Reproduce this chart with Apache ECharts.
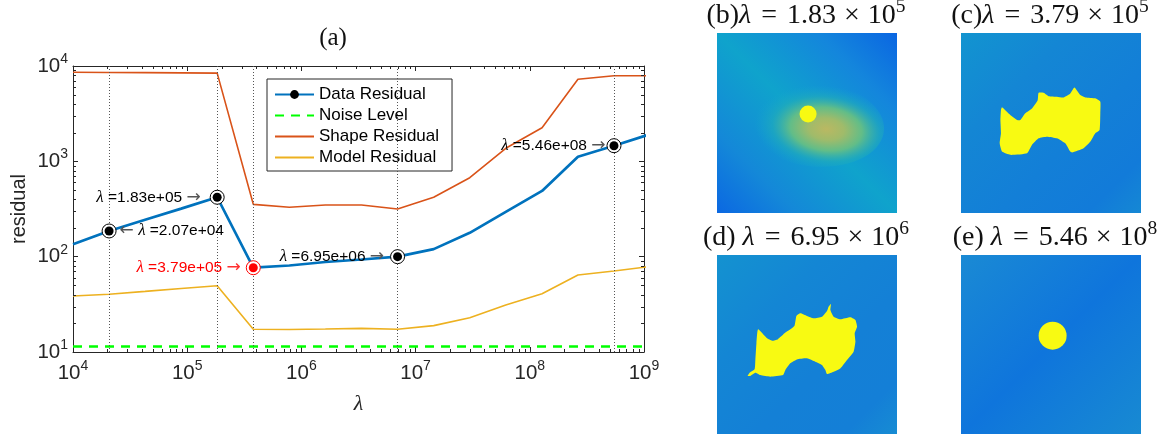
<!DOCTYPE html>
<html><head><meta charset="utf-8">
<script src="https://cdn.jsdelivr.net/npm/echarts@6/dist/echarts.min.js"></script>
<style>html,body{margin:0;padding:0;background:#fff}#c{width:1165px;height:434px}</style>
</head><body><div id="c"></div>
<script>
// ---------------- data ----------------
const lambdas = [1.00e4, 2.07e4, 4.28e4, 8.86e4, 1.83e5, 3.79e5, 7.85e5, 1.62e6, 3.36e6, 6.95e6, 1.44e7, 2.98e7, 6.16e7, 1.28e8, 2.64e8, 5.46e8, 1.13e9];
const dataResidual  = [135, 186, 244, 319, 420, 76.6, 80.8, 87.9, 93.4, 100, 120, 178, 295, 489, 1119, 1459, 1927];
const shapeResidual = [8600, 8560, 8520, 8480, 8420, 354, 330, 348, 348, 316, 420, 673, 1370, 2254, 7256, 7912, 7912];
const modelResidual = [38.7, 40.3, 43.2, 46.4, 49.6, 17.3, 17.2, 17.4, 17.7, 17.3, 18.9, 22.9, 31.1, 40.9, 64.2, 70.7, 78.9];
const noiseLevel = 11.4;
const legendNames = ['Data Residual', 'Noise Level', 'Shape Residual', 'Model Residual'];

const markedIdx   = [1, 4, 5, 9, 15];
const markedText  = ['{a|←} {l|λ} =2.07e+04', '{l|λ} =1.83e+05 {a|→}', '{l|λ} =3.79e+05 {a|→}', '{l|λ} =6.95e+06 {a|→}', '{l|λ} =5.46e+08 {a|→}'];
const markedRed   = [false, false, true, false, false];

const minorMult = [2, 3, 4, 5, 6, 7, 8, 9];
const xDecades = [1e4, 1e5, 1e6, 1e7, 1e8];
const yDecades = [1e1, 1e2, 1e3];

const panelTitles = ['(b){l|λ}{e|=}1.83{x|×}10{s|5}', '(c){l|λ}{e|=}3.79{x|×}10{s|5}', '(d) {l|λ}{e|=}6.95{x|×}10{s|6}', '(e) {l|λ}{e|=}5.46{x|×}10{s|8}'];

// image-panel contents, in image units (0..100, y downward)
const dotB = [[50.6, 45.0]];
const glowB = [[53, 50]];
const blobC = [[22.8,41.3],[27.4,45.6],[31.1,48.3],[33.0,48.3],[35.7,44.6],[39.4,41.9],[42.6,37.3],[43.1,33.2],[45.9,33.2],[48.7,35.1],[53.3,35.4],[57.0,35.8],[60.7,33.6],[63.0,30.3],[66.3,34.5],[69.1,35.8],[74.6,36.3],[77.4,38.2],[77.4,44.6],[77.0,53.9],[74.6,55.7],[71.9,60.3],[68.1,64.0],[61.7,66.4],[60.7,65.9],[57.9,61.3],[53.3,58.5],[47.8,57.6],[43.1,58.5],[39.4,62.2],[36.7,66.8],[27.4,67.7],[22.8,65.9],[21.5,61.3],[22.2,55.7],[21.9,48.3],[22.2,42.8]];
const blobD = [[22.8,41.3],[27.8,46.3],[30.6,47.6],[33.7,46.9],[38.0,43.1],[43.0,39.4],[44.1,33.9],[46.3,32.4],[50.0,33.9],[53.7,35.2],[58.3,34.3],[61.1,31.1],[62.0,28.7],[63.3,27.2],[63.0,30.6],[64.8,34.3],[68.5,35.7],[74.1,34.6],[76.9,36.1],[77.8,39.8],[76.5,43.5],[76.9,48.1],[75.9,53.7],[72.2,58.3],[68.5,63.0],[64.8,64.8],[61.1,66.1],[60.2,63.9],[58.3,61.1],[54.6,59.3],[50.0,57.4],[44.4,58.0],[40.7,60.2],[38.0,63.9],[36.7,66.7],[29.6,67.6],[24.1,66.7],[21.3,65.4],[18.5,67.2],[17.0,67.2],[18.1,65.4],[20.9,63.5],[21.3,58.3],[21.9,49.1]];
const dotE = [[50.9, 44.8]];

// ---------------- styles ----------------
const AX = '#262626';
const SANS = 'Liberation Sans';
const SERIF = 'Liberation Serif';
const YEL = '#F8FA12';
const pts = ys => lambdas.map((x, i) => [x, ys[i]]);
const sup = v => '10{s|' + Math.round(Math.log10(v)) + '}';
const supRich = {s: {fontSize: 14, padding: [0, 0, 14, 0], fontFamily: SANS, color: AX}};

function lin(x, y, x2, y2, stops) {
  return {type: 'linear', x, y, x2, y2, colorStops: stops.map(s => ({offset: s[0], color: s[1]}))};
}
const bgB = lin(1, 0, 0, 1, [[0, '#0a66e2'], [0.22, '#1486dc'], [0.5, '#0fa3cc'], [0.78, '#1488d8'], [1, '#0b68e2']]);
const bgC = lin(0, 0, 1, 1, [[0, '#1294d0'], [0.3, '#1486d4'], [0.6, '#137fd7'], [0.85, '#127bd9'], [1, '#1588d4']]);
const bgD = lin(0, 0, 1, 1, [[0, '#1492d0'], [0.3, '#1486d4'], [0.6, '#1480d6'], [0.85, '#147fd7'], [1, '#178cd3']]);
const bgE = lin(0, 0, 1, 1, [[0, '#1a8ad4'], [0.5, '#0f75dc'], [1, '#188ad2']]);

const panelGrid = (left, top, bg) => ({left, top, width: 180, height: 180, show: true, borderWidth: 0, backgroundColor: bg, outerBoundsMode: 'none'});
const panelX = i => ({type: 'value', gridIndex: i, min: 0, max: 100, show: false});
const panelY = i => ({type: 'value', gridIndex: i, min: 0, max: 100, inverse: true, show: false});
// axis index of each image panel: b=2, c=3, d=4, e=5
const PB = 2, PC = 3, PD = 4, PE = 5;

function blob(ax, outline) {
  return {
    type: 'custom', xAxisIndex: ax, yAxisIndex: ax, silent: true, z: 3, clip: true,
    data: [outline[0]],
    renderItem: (p, api) => ({
      type: 'polygon',
      shape: {points: outline.map(q => api.coord(q)), smooth: 0.15},
      style: {fill: YEL}
    })
  };
}

const xMinor = [], yMinor = [];
xDecades.forEach(d => minorMult.forEach(m => xMinor.push([d * m, 10])));
yDecades.forEach(d => minorMult.forEach(m => yMinor.push([1e4, d * m])));

const option = {
  animation: false,
  backgroundColor: '#ffffff',
  textStyle: {fontFamily: SANS},
  grid: [
    {left: 73, top: 66, width: 571, height: 286, show: false, outerBoundsMode: 'none'},
    panelGrid(717, 33, bgB), panelGrid(961, 33, bgC), panelGrid(717, 255, bgD), panelGrid(961, 255, bgE)
  ],
  xAxis: [
    {type: 'log', logBase: 10, gridIndex: 0, min: 1e4, max: 1e9, position: 'bottom',
     name: 'λ', nameLocation: 'middle', nameGap: 41,
     nameTextStyle: {fontFamily: SERIF, fontStyle: 'italic', fontSize: 22, color: AX},
     axisLine: {show: true, onZero: false, lineStyle: {color: AX, width: 1}},
     axisTick: {show: true, inside: true, length: 5, lineStyle: {color: AX}},
     minorTick: {show: false}, splitLine: {show: false},
     axisLabel: {formatter: sup, rich: supRich, fontSize: 20.5, color: AX, margin: 7, fontFamily: SANS}},
    {type: 'log', logBase: 10, gridIndex: 0, min: 1e4, max: 1e9, position: 'top',
     axisLine: {show: true, onZero: false, lineStyle: {color: AX, width: 1}},
     axisTick: {show: true, inside: true, length: 5, lineStyle: {color: AX}},
     axisLabel: {show: false}, splitLine: {show: false}},
    panelX(1), panelX(2), panelX(3), panelX(4)
  ],
  yAxis: [
    {type: 'log', logBase: 10, gridIndex: 0, min: 10, max: 1e4, position: 'left',
     name: 'residual', nameLocation: 'middle', nameGap: 44,
     nameTextStyle: {fontFamily: SANS, fontSize: 20, color: AX},
     axisLine: {show: true, onZero: false, lineStyle: {color: AX, width: 1}},
     axisTick: {show: true, inside: true, length: 5, lineStyle: {color: AX}},
     splitLine: {show: false},
     axisLabel: {formatter: sup, rich: supRich, fontSize: 20.5, color: AX, margin: 5, fontFamily: SANS}},
    {type: 'log', logBase: 10, gridIndex: 0, min: 10, max: 1e4, position: 'right',
     axisLine: {show: true, onZero: false, lineStyle: {color: AX, width: 1}},
     axisTick: {show: true, inside: true, length: 5, lineStyle: {color: AX}},
     axisLabel: {show: false}, splitLine: {show: false}},
    panelY(1), panelY(2), panelY(3), panelY(4)
  ],
  legend: {
    orient: 'vertical', left: 267, top: 79,
    backgroundColor: '#fff', borderColor: AX, borderWidth: 1, borderRadius: 0,
    padding: [7, 13, 5, 7], itemWidth: 39, itemHeight: 11, itemGap: 4,
    textStyle: {fontSize: 17, color: '#000', fontFamily: SANS},
    selectedMode: false,
    data: [
      {name: legendNames[0], itemStyle: {color: '#000', borderWidth: 0}},
      {name: legendNames[1], itemStyle: {color: 'rgba(0,0,0,0)', borderWidth: 0}},
      {name: legendNames[2], itemStyle: {color: 'rgba(0,0,0,0)', borderWidth: 0}},
      {name: legendNames[3], itemStyle: {color: 'rgba(0,0,0,0)', borderWidth: 0}}
    ]
  },
  graphic: panelTitles.map((t, i) => ({
    type: 'text',
    x: [806, 1050, 806, 1055][i], y: [16, 16, 238, 238][i],
    style: {
      text: t, fontFamily: SERIF, fontSize: 28, fill: '#111',
      align: 'center', verticalAlign: 'middle',
      rich: {
        l: {fontFamily: SERIF, fontStyle: 'italic', fontSize: 28},
        e: {fontFamily: SERIF, fontSize: 28, padding: [0, 10, 0, 10]},
        x: {fontFamily: SERIF, fontSize: 28, padding: [0, 8, 0, 8]},
        s: {fontFamily: SERIF, fontSize: 19.5, padding: [0, 0, 18, 0]}
      }
    }
  })).concat([{
    type: 'text', x: 333, y: 38,
    style: {text: '(a)', fontFamily: SERIF, fontSize: 25, fill: '#111', align: 'center', verticalAlign: 'middle'}
  }]),
  series: [
    // vertical dotted guide lines
    {type: 'line', xAxisIndex: 0, yAxisIndex: 0, data: [], silent: true, z: 1,
     markLine: {silent: true, symbol: ['none', 'none'], label: {show: false},
       lineStyle: {type: [1, 2], color: '#555', width: 1},
       data: markedIdx.map(i => ({xAxis: lambdas[i]}))}},
    {name: legendNames[1], type: 'line', xAxisIndex: 0, yAxisIndex: 0, showSymbol: false, symbol: 'none', silent: true, z: 2,
     data: [[1e4, noiseLevel], [1e9, noiseLevel]],
     lineStyle: {color: '#00FF00', width: 2.5, type: [9, 7]}, itemStyle: {color: '#00FF00'}},
    {name: legendNames[2], type: 'line', xAxisIndex: 0, yAxisIndex: 0, showSymbol: false, symbol: 'none', silent: true, z: 2,
     data: pts(shapeResidual), lineStyle: {color: '#D95319', width: 1.6}, itemStyle: {color: '#D95319'}},
    {name: legendNames[3], type: 'line', xAxisIndex: 0, yAxisIndex: 0, showSymbol: false, symbol: 'none', silent: true, z: 2,
     data: pts(modelResidual), lineStyle: {color: '#EDB120', width: 1.6}, itemStyle: {color: '#EDB120'}},
    {name: legendNames[0], type: 'line', xAxisIndex: 0, yAxisIndex: 0, showSymbol: false, symbol: 'circle', symbolSize: 9, silent: true, z: 3,
     data: pts(dataResidual), lineStyle: {color: '#0072BD', width: 2.7}, itemStyle: {color: '#000'}},
    // marker rings with annotations
    {type: 'scatter', xAxisIndex: 0, yAxisIndex: 0, silent: true, z: 5, symbol: 'circle', symbolSize: 14,
     data: markedIdx.map((i, k) => {
       const col = markedRed[k] ? '#ff0000' : '#000';
       return {
         value: [lambdas[i], dataResidual[i]],
         itemStyle: {color: '#fff', borderColor: col, borderWidth: 1, opacity: 1},
         label: {show: true, position: k === 0 ? 'right' : 'left', distance: [3, 9, 5, 6, 1][k],
           formatter: markedText[k], fontSize: 15.5, fontFamily: SANS, color: col,
           rich: {l: {fontFamily: SERIF, fontStyle: 'italic', fontSize: 17, color: col},
                  a: {fontFamily: 'DejaVu Sans', fontSize: 17, color: markedRed[k] ? '#ff3030' : '#555'}}}
       };
     })},
    {type: 'scatter', xAxisIndex: 0, yAxisIndex: 0, silent: true, z: 6, symbol: 'circle', symbolSize: 9,
     data: markedIdx.map((i, k) => ({value: [lambdas[i], dataResidual[i]], itemStyle: {color: markedRed[k] ? '#ff0000' : '#000', opacity: 1}}))},
    // minor ticks (log decades)
    {type: 'custom', xAxisIndex: 0, yAxisIndex: 0, silent: true, z: 4, clip: false, data: xMinor,
     renderItem: (p, api) => {
       const v = api.value(0);
       const b = api.coord([v, 10]), t = api.coord([v, 1e4]);
       const x = Math.round(b[0]) + 0.5;
       return {type: 'group', children: [
         {type: 'line', shape: {x1: x, y1: b[1], x2: x, y2: b[1] - 3}, style: {stroke: AX, lineWidth: 1}},
         {type: 'line', shape: {x1: x, y1: t[1], x2: x, y2: t[1] + 3}, style: {stroke: AX, lineWidth: 1}}]};
     }},
    {type: 'custom', xAxisIndex: 0, yAxisIndex: 0, silent: true, z: 4, clip: false, data: yMinor,
     renderItem: (p, api) => {
       const v = api.value(1);
       const l = api.coord([1e4, v]), r = api.coord([1e9, v]);
       const y = Math.round(l[1]) + 0.5;
       return {type: 'group', children: [
         {type: 'line', shape: {x1: l[0], y1: y, x2: l[0] + 3, y2: y}, style: {stroke: AX, lineWidth: 1}},
         {type: 'line', shape: {x1: r[0], y1: y, x2: r[0] - 3, y2: y}, style: {stroke: AX, lineWidth: 1}}]};
     }},
    // panel (b): glow and dot
    {type: 'custom', xAxisIndex: PB, yAxisIndex: PB, silent: true, z: 2, clip: true, data: glowB,
     renderItem: (p, api) => {
       const c = api.coord([api.value(0), api.value(1)]);
       const s = api.size([40, 24]);
       return {type: 'circle', x: c[0], y: c[1], rotation: -0.12, scaleX: Math.abs(s[0]), scaleY: Math.abs(s[1]),
         shape: {cx: 0, cy: 0, r: 1},
         style: {fill: {type: 'radial', x: 0.6, y: 0.55, r: 0.5, colorStops: [
           {offset: 0, color: '#bab862'}, {offset: 0.25, color: '#a0bb6a'}, {offset: 0.5, color: '#62bd88'},
           {offset: 0.75, color: 'rgba(34,172,185,0.6)'}, {offset: 1, color: 'rgba(20,165,205,0)'}]}}};
     }},
    {type: 'scatter', xAxisIndex: PB, yAxisIndex: PB, silent: true, z: 3, symbol: 'circle', symbolSize: 17, data: dotB, itemStyle: {color: YEL, opacity: 1}},
    blob(PC, blobC),
    blob(PD, blobD),
    {type: 'scatter', xAxisIndex: PE, yAxisIndex: PE, silent: true, z: 3, symbol: 'circle', symbolSize: 28, data: dotE, itemStyle: {color: YEL, opacity: 1}}
  ]
};
const chart = echarts.init(document.getElementById('c'), null, {renderer: 'canvas'});
chart.setOption(option);
</script></body></html>
